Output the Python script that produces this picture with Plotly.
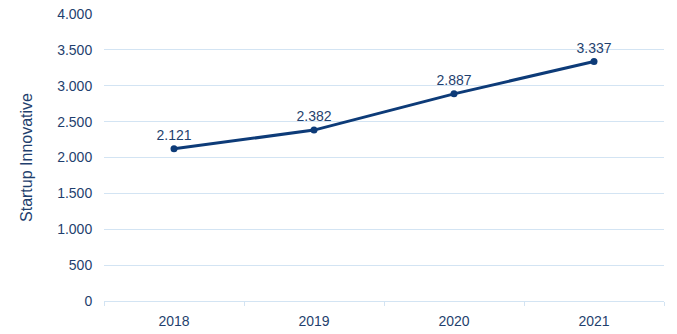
import plotly.graph_objects as go

years = ["2018", "2019", "2020", "2021"]
startups = [2121, 2382, 2887, 3337]
labels = ["2.121", "2.382", "2.887", "3.337"]

navy = "#0D3B78"
text_col = "#1F3F6E"
grid_col = "#D3E4F3"

fig = go.Figure(
    go.Scatter(
        x=years,
        y=startups,
        mode="lines+markers+text",
        text=labels,
        textposition="top center",
        textfont=dict(family="Liberation Sans, Arial", size=14, color=text_col),
        line=dict(color=navy, width=3),
        marker=dict(color=navy, size=7),
        cliponaxis=False,
        hoverinfo="skip",
    )
)

fig.update_layout(
    width=677,
    height=334,
    margin=dict(l=104, r=13, t=14, b=33),
    paper_bgcolor="white",
    plot_bgcolor="white",
    separators=",.",
    showlegend=False,
    font=dict(family="Liberation Sans, Arial", size=13, color=text_col),
)

fig.update_xaxes(
    type="category",
    range=[-0.5, 3.5],
    tickson="boundaries",
    ticks="outside",
    ticklen=4,
    tickcolor=grid_col,
    showline=True,
    linecolor=grid_col,
    linewidth=1,
    showgrid=False,
    ticklabelstandoff=7,
    automargin=False,
    tickfont=dict(size=14, color=text_col),
)

fig.update_yaxes(
    range=[0, 4000],
    tickvals=[0, 500, 1000, 1500, 2000, 2500, 3000, 3500, 4000],
    tickformat=",d",
    showgrid=True,
    gridcolor=grid_col,
    gridwidth=1,
    zeroline=False,
    showline=False,
    ticks="outside",
    ticklen=8,
    tickcolor="white",
    automargin=False,
    tickfont=dict(size=14, color=text_col),
    title=dict(text="Startup Innovative", font=dict(size=16, color=text_col), standoff=20),
)

fig.write_html("out.html")
